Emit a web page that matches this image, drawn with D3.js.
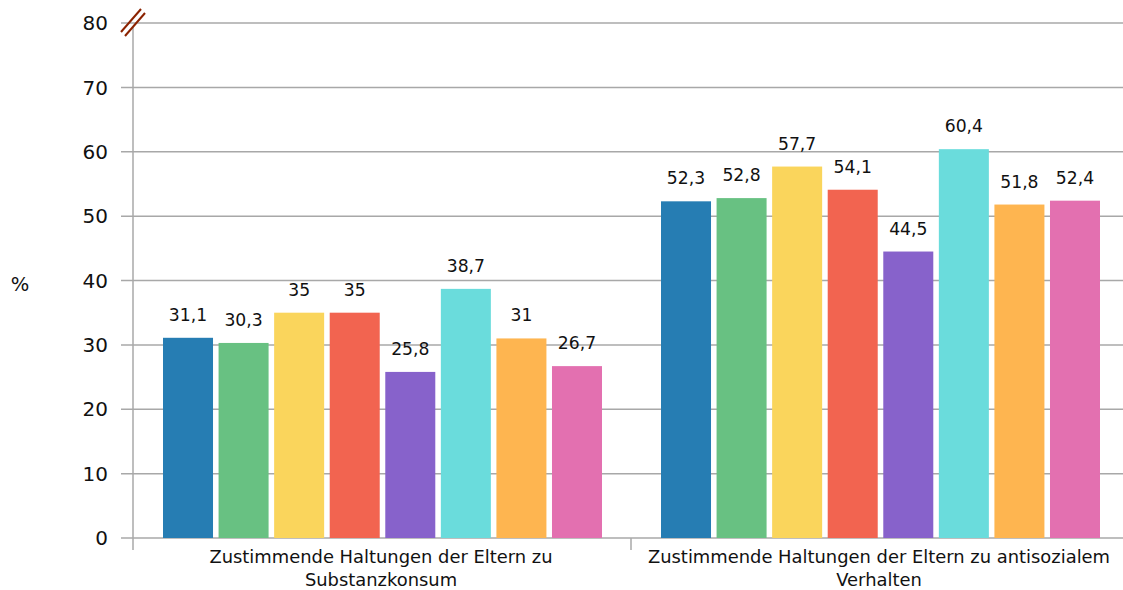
<!DOCTYPE html>
<html>
<head>
<meta charset="utf-8">
<script src="https://cdn.jsdelivr.net/npm/d3@7"></script>
<style>
  html, body { margin: 0; padding: 0; background: #fff; }
  svg text { font-family: "DejaVu Sans", sans-serif; fill: #111; }
</style>
</head>
<body>
<svg id="chart" width="1123" height="590"></svg>
<script>
// Category labels (each split over two lines)
const categories = [
  ["Zustimmende Haltungen der Eltern zu", "Substanzkonsum"],
  ["Zustimmende Haltungen der Eltern zu antisozialem", "Verhalten"]
];
const seriesNames = ["S1", "S2", "S3", "S4", "S5", "S6", "S7", "S8"];
const seriesColors = ["#267db3", "#68c182", "#fad55c", "#f26450", "#8762cb", "#6adcdc", "#feb550", "#e370b0"];
// Values per category, one per series
const valuesSubstanz = [31.1, 30.3, 35, 35, 25.8, 38.7, 31, 26.7];
const valuesAntisozial = [52.3, 52.8, 57.7, 54.1, 44.5, 60.4, 51.8, 52.4];
const yTicks = [0, 10, 20, 30, 40, 50, 60, 70, 80];

const data = [valuesSubstanz, valuesAntisozial];

const svg = d3.select("#chart");
const plotLeft = 133, plotRight = 1129, plotTop = 23, plotBottom = 538;

const y = d3.scaleLinear().domain([0, 80]).range([plotBottom, plotTop]);
const x0 = d3.scaleBand().domain(d3.range(categories.length)).range([plotLeft, plotRight]).paddingInner(0).paddingOuter(0);
const x1 = d3.scaleBand().domain(d3.range(seriesNames.length))
  .range([30, x0.bandwidth() - 29]).paddingInner(0.1).paddingOuter(0);

// Horizontal gridlines
svg.append("g").selectAll("line").data(yTicks).join("line")
  .attr("x1", 121).attr("x2", 1123)
  .attr("y1", d => y(d)).attr("y2", d => y(d))
  .attr("stroke", "#a8a8a8").attr("stroke-width", 1.5);

// Y tick labels
svg.append("g").selectAll("text").data(yTicks).join("text")
  .attr("x", 108).attr("y", d => y(d))
  .attr("dy", "0.36em").attr("text-anchor", "end")
  .attr("font-size", 20).text(d => d);

// Y axis line
svg.append("line").attr("x1", plotLeft).attr("x2", plotLeft)
  .attr("y1", plotTop + 4).attr("y2", plotBottom + 12)
  .attr("stroke", "#a8a8a8").attr("stroke-width", 1.5);

// Category separator ticks
svg.append("g").selectAll("line").data(d3.range(1, categories.length)).join("line")
  .attr("x1", d => x0(d)).attr("x2", d => x0(d))
  .attr("y1", plotBottom).attr("y2", plotBottom + 12)
  .attr("stroke", "#a8a8a8").attr("stroke-width", 1.5);

// Axis break marker
const brk = svg.append("g").attr("stroke", "#8b2200").attr("stroke-width", 2);
brk.append("line").attr("x1", 121).attr("y1", 32).attr("x2", 141).attr("y2", 9);
brk.append("line").attr("x1", 125).attr("y1", 36).attr("x2", 145).attr("y2", 13);

// Bars and value labels
const groups = svg.append("g").selectAll("g").data(data).join("g")
  .attr("transform", (d, i) => `translate(${x0(i)},0)`);

groups.selectAll("rect").data(d => d).join("rect")
  .attr("x", (d, j) => x1(j))
  .attr("width", x1.bandwidth())
  .attr("y", d => y(d))
  .attr("height", d => plotBottom - y(d))
  .attr("fill", (d, j) => seriesColors[j]);

const fmt = d => String(d).replace(".", ",");
groups.selectAll("text").data(d => d).join("text")
  .attr("x", (d, j) => x1(j) + x1.bandwidth() / 2)
  .attr("y", d => y(d) - 17)
  .attr("text-anchor", "middle")
  .attr("font-size", 17.2)
  .text(fmt);

// Category labels
svg.append("g").selectAll("text").data(categories).join("text")
  .attr("x", (d, i) => x0(i) + x0.bandwidth() / 2 - 1)
  .attr("y", 563)
  .attr("text-anchor", "middle")
  .attr("font-size", 17.9)
  .each(function (lines) {
    const t = d3.select(this);
    t.selectAll("tspan").data(lines).join("tspan")
      .attr("x", t.attr("x"))
      .attr("dy", (l, k) => k === 0 ? 0 : 23)
      .text(l => l);
  });

// Y axis unit
svg.append("text").attr("x", 20).attr("y", 284).attr("dy", "0.36em")
  .attr("text-anchor", "middle").attr("font-size", 19.5).text("%");
</script>
</body>
</html>
